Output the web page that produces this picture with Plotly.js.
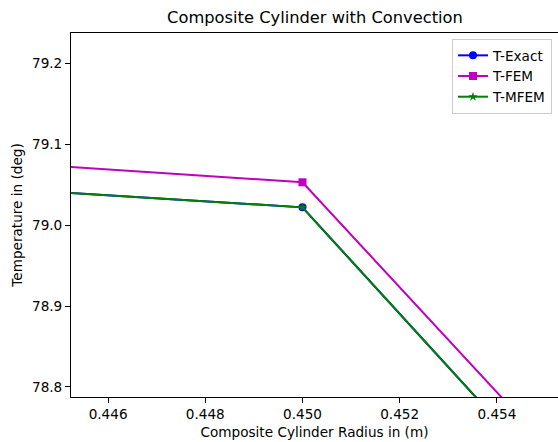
<!DOCTYPE html>
<html>
<head>
<meta charset="utf-8">
<script src="https://cdn.plot.ly/plotly-3.0.1.min.js"></script>
<style>
  html, body { margin: 0; padding: 0; background: #ffffff; overflow: hidden; }
  #chart { width: 558px; height: 442px; }
</style>
</head>
<body>
<div id="chart"></div>
<script>
// Nodal radii (m) around the material interface at r = 0.45
const radius = [0.40, 0.45, 0.50];

// Nodal temperatures (deg)
const tExact = [79.209, 79.022, 75.732];
const tFem   = [79.253, 79.053, 75.808];
const tMfem  = [79.209, 79.022, 75.732];

const xTicks = [0.446, 0.448, 0.450, 0.452, 0.454];
const yTicks = [78.8, 78.9, 79.0, 79.1, 79.2];

const FONT = "DejaVu Sans, sans-serif";

const traces = [
  {
    x: radius, y: tExact, name: "T-Exact", type: "scatter", mode: "lines+markers",
    line: { color: "#0000ff", width: 2 },
    marker: { symbol: "circle", size: 8, color: "#0000ff" }
  },
  {
    x: radius, y: tFem, name: "T-FEM", type: "scatter", mode: "lines+markers",
    line: { color: "#bf00bf", width: 2 },
    marker: { symbol: "square", size: 8, color: "#bf00bf" }
  },
  {
    x: radius, y: tMfem, name: "T-MFEM", type: "scatter", mode: "lines+markers",
    line: { color: "#008000", width: 2 },
    marker: { symbol: "star", size: 7, color: "#008000" }
  }
];

const layout = {
  width: 558,
  height: 442,
  margin: { l: 71, r: 0, t: 33, b: 45, pad: 0 },
  paper_bgcolor: "#ffffff",
  plot_bgcolor: "#ffffff",
  font: { family: FONT, size: 13.6, color: "#000000" },
  showlegend: true,
  title: {
    text: "Composite Cylinder with Convection",
    font: { family: FONT, size: 16.3, color: "#000000" },
    x: 315 / 558, xanchor: "center", xref: "container",
    y: 1 - 17 / 442, yanchor: "middle", yref: "container"
  },
  xaxis: {
    range: [0.445237, 0.455258],
    tickvals: xTicks,
    tickformat: ".3f",
    ticks: "outside", ticklen: 5, tickwidth: 1, tickcolor: "#000000",
    showline: true, linecolor: "#000000", linewidth: 1, mirror: true,
    showgrid: false, zeroline: false,
    tickfont: { family: FONT, size: 13.6, color: "#000000" },
    title: { text: "Composite Cylinder Radius in (m)", font: { family: FONT, size: 13.6, color: "#000000" }, standoff: 6 }
  },
  yaxis: {
    range: [78.7875, 79.2376],
    tickvals: yTicks,
    tickformat: ".1f",
    ticks: "outside", ticklen: 5, tickwidth: 1, tickcolor: "#000000",
    showline: true, linecolor: "#000000", linewidth: 1, mirror: false,
    showgrid: false, zeroline: false,
    tickfont: { family: FONT, size: 13.6, color: "#000000" },
    title: { text: "Temperature in (deg)", font: { family: FONT, size: 13.6, color: "#000000" }, standoff: 6 }
  },
  legend: {
    x: (452 - 71) / 487, xanchor: "left",
    y: (397 - 39) / 364, yanchor: "top",
    bgcolor: "#ffffff",
    bordercolor: "#cccccc",
    borderwidth: 1,
    font: { family: FONT, size: 13.6, color: "#000000" },
    itemwidth: 30,
    tracegroupgap: 0
  }
};

Plotly.newPlot("chart", traces, layout, { displayModeBar: false, staticPlot: true });
</script>
</body>
</html>
